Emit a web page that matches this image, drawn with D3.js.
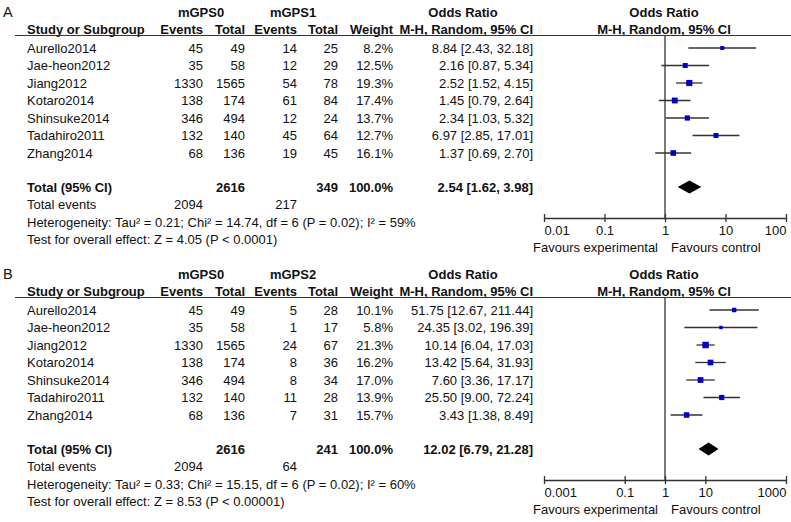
<!DOCTYPE html>
<html>
<head>
<meta charset="utf-8">
<script src="https://cdn.jsdelivr.net/npm/d3@7"></script>
<style>
  html, body { margin: 0; padding: 0; background: #fff; }
  svg { display: block; }
  text { font-family: "Liberation Sans", Arial, sans-serif; font-size: 13px; fill: #111; }
  .b { font-weight: bold; }
</style>
</head>
<body>
<svg id="chart" width="791" height="522"></svg>
<script>
// ---------- data ----------
const studies = ["Aurello2014", "Jae-heon2012", "Jiang2012", "Kotaro2014", "Shinsuke2014", "Tadahiro2011", "Zhang2014"];
const ctrlEvents = [45, 35, 1330, 138, 346, 132, 68];
const ctrlTotals = [49, 58, 1565, 174, 494, 140, 136];

// Panel A: mGPS0 vs mGPS1
const aEvents = [14, 12, 54, 61, 12, 45, 19];
const aTotals = [25, 29, 78, 84, 24, 64, 45];
const aWeights = [8.2, 12.5, 19.3, 17.4, 13.7, 12.7, 16.1];
const aOR = [8.84, 2.16, 2.52, 1.45, 2.34, 6.97, 1.37];
const aLow = [2.43, 0.87, 1.52, 0.79, 1.03, 2.85, 0.69];
const aHigh = [32.18, 5.34, 4.15, 2.64, 5.32, 17.01, 2.70];
const aTotal = {ctrlN: 2616, expN: 349, ctrlEv: 2094, expEv: 217, or: 2.54, low: 1.62, high: 3.98};
const aHet = "Heterogeneity: Tau\u00B2 = 0.21; Chi\u00B2 = 14.74, df = 6 (P = 0.02); I\u00B2 = 59%";
const aTest = "Test for overall effect: Z = 4.05 (P < 0.0001)";
const aTicks = [0.01, 0.1, 1, 10, 100];
const aTickLabels = ["0.01", "0.1", "1", "10", "100"];

// Panel B: mGPS0 vs mGPS2
const bEvents = [5, 1, 24, 8, 8, 11, 7];
const bTotals = [28, 17, 67, 36, 34, 28, 31];
const bWeights = [10.1, 5.8, 21.3, 16.2, 17.0, 13.9, 15.7];
const bOR = [51.75, 24.35, 10.14, 13.42, 7.60, 25.50, 3.43];
const bLow = [12.67, 3.02, 6.04, 5.64, 3.36, 9.00, 1.38];
const bHigh = [211.44, 196.39, 17.03, 31.93, 17.17, 72.24, 8.49];
const bTotal = {ctrlN: 2616, expN: 241, ctrlEv: 2094, expEv: 64, or: 12.02, low: 6.79, high: 21.28};
const bHet = "Heterogeneity: Tau\u00B2 = 0.33; Chi\u00B2 = 15.15, df = 6 (P = 0.02); I\u00B2 = 60%";
const bTest = "Test for overall effect: Z = 8.53 (P < 0.00001)";
const bTicks = [0.001, 0.1, 1, 10, 1000];
const bTickLabels = ["0.001", "0.1", "1", "10", "1000"];

// ---------- drawing ----------
const svg = d3.select("#chart");

function fmtOR(o, l, h) {
  return o.toFixed(2) + " [" + l.toFixed(2) + ", " + h.toFixed(2) + "]";
}

function drawPanel(top, letter, expLabel, ev, tot, w, or, lo, hi, totals, het, test, ticks, tickLabels) {
  const g = svg.append("g").attr("transform", `translate(0,${top})`);
  const X = {study: 27, ce: 203, ct: 245, ee: 297, et: 338, w: 393, or: 533};
  const txt = (x, y, s, anchor, bold) =>
    g.append("text").attr("x", x).attr("y", y).attr("text-anchor", anchor || "start")
      .attr("class", bold ? "b" : null).text(s);

  // panel letter
  g.append("text").attr("x", 3).attr("y", 17).style("font-size", "14.5px").text(letter);

  // group headers
  txt(201, 17, "mGPS0", "middle", true);
  txt(293, 17, expLabel, "middle", true);
  txt(463, 17, "Odds Ratio", "middle", true);
  txt(664, 17, "Odds Ratio", "middle", true);

  // column headers
  const hy = 34;
  txt(X.study, hy, "Study or Subgroup", "start", true);
  txt(X.ce, hy, "Events", "end", true);
  txt(X.ct, hy, "Total", "end", true);
  txt(X.ee, hy, "Events", "end", true);
  txt(X.et, hy, "Total", "end", true);
  txt(X.w, hy, "Weight", "end", true);
  txt(X.or, hy, "M-H, Random, 95% CI", "end", true);
  txt(664, hy, "M-H, Random, 95% CI", "middle", true);

  g.append("line").attr("x1", 15).attr("x2", 791).attr("y1", 35.5).attr("y2", 35.5)
    .attr("stroke", "#333").attr("stroke-width", 1.2);

  // rows
  const y = d3.scaleLinear().domain([0, 1]).range([48, 65.5]);
  studies.forEach((s, i) => {
    const yy = y(i) + 4.5;
    txt(X.study, yy, s);
    txt(X.ce, yy, ctrlEvents[i], "end");
    txt(X.ct, yy, ctrlTotals[i], "end");
    txt(X.ee, yy, ev[i], "end");
    txt(X.et, yy, tot[i], "end");
    txt(X.w, yy, w[i].toFixed(1) + "%", "end");
    txt(X.or, yy, fmtOR(or[i], lo[i], hi[i]), "end");
  });

  const yTot = 187, yEv = 204.5, yHet = 222, yTest = 239.5;
  txt(X.study, yTot + 4.5, "Total (95% CI)", "start", true);
  txt(X.ct, yTot + 4.5, totals.ctrlN, "end", true);
  txt(X.et, yTot + 4.5, totals.expN, "end", true);
  txt(X.w, yTot + 4.5, "100.0%", "end", true);
  txt(X.or, yTot + 4.5, fmtOR(totals.or, totals.low, totals.high), "end", true);
  txt(X.study, yEv + 4.5, "Total events");
  txt(X.ce, yEv + 4.5, totals.ctrlEv, "end");
  txt(X.ee, yEv + 4.5, totals.expEv, "end");
  txt(X.study, yHet + 4.5, het);
  txt(X.study, yTest + 4.5, test);

  // forest plot
  const x = d3.scaleLog().domain([ticks[0], ticks[ticks.length - 1]]).range([544, 786]);
  const axisY = 218;

  g.append("line").attr("x1", x(1)).attr("x2", x(1)).attr("y1", 36).attr("y2", axisY)
    .attr("stroke", "#333").attr("stroke-width", 1.3);

  studies.forEach((s, i) => {
    const yy = y(i);
    g.append("line").attr("x1", x(lo[i])).attr("x2", x(hi[i])).attr("y1", yy).attr("y2", yy)
      .attr("stroke", "#333").attr("stroke-width", 1.3);
    const side = 1.4 * Math.sqrt(w[i]);
    g.append("rect").attr("x", x(or[i]) - side / 2).attr("y", yy - side / 2)
      .attr("width", side).attr("height", side).attr("fill", "#0000c8");
  });

  const dh = 6.5;
  g.append("path")
    .attr("d", `M${x(totals.low)},${yTot} L${x(totals.or)},${yTot - dh} L${x(totals.high)},${yTot} L${x(totals.or)},${yTot + dh} Z`)
    .attr("fill", "#000");

  const axis = d3.axisBottom(x).tickValues(ticks)
    .tickFormat((d, i) => tickLabels[i]).tickSizeInner(4).tickSizeOuter(0).tickPadding(4);
  const ag = g.append("g").attr("transform", `translate(0,${axisY})`).call(axis);
  ag.select(".domain").attr("stroke", "#333").attr("stroke-width", 1.3);
  ag.selectAll(".tick line").attr("y1", -4).attr("y2", 4).attr("stroke", "#333").attr("stroke-width", 1.3);
  const last = ticks.length - 1;
  ag.selectAll(".tick text").attr("y", 8).attr("dy", "0.71em")
    .attr("text-anchor", (d, i) => i === 0 ? "start" : (i === last ? "end" : "middle"))
    .style("font-family", "'Liberation Sans', Arial, sans-serif").style("font-size", "13px").attr("fill", "#111");

  txt(658, 252, "Favours experimental", "end");
  txt(671, 252, "Favours control", "start");
}

drawPanel(0, "A", "mGPS1", aEvents, aTotals, aWeights, aOR, aLow, aHigh, aTotal, aHet, aTest, aTicks, aTickLabels);
drawPanel(262, "B", "mGPS2", bEvents, bTotals, bWeights, bOR, bLow, bHigh, bTotal, bHet, bTest, bTicks, bTickLabels);
</script>
</body>
</html>
